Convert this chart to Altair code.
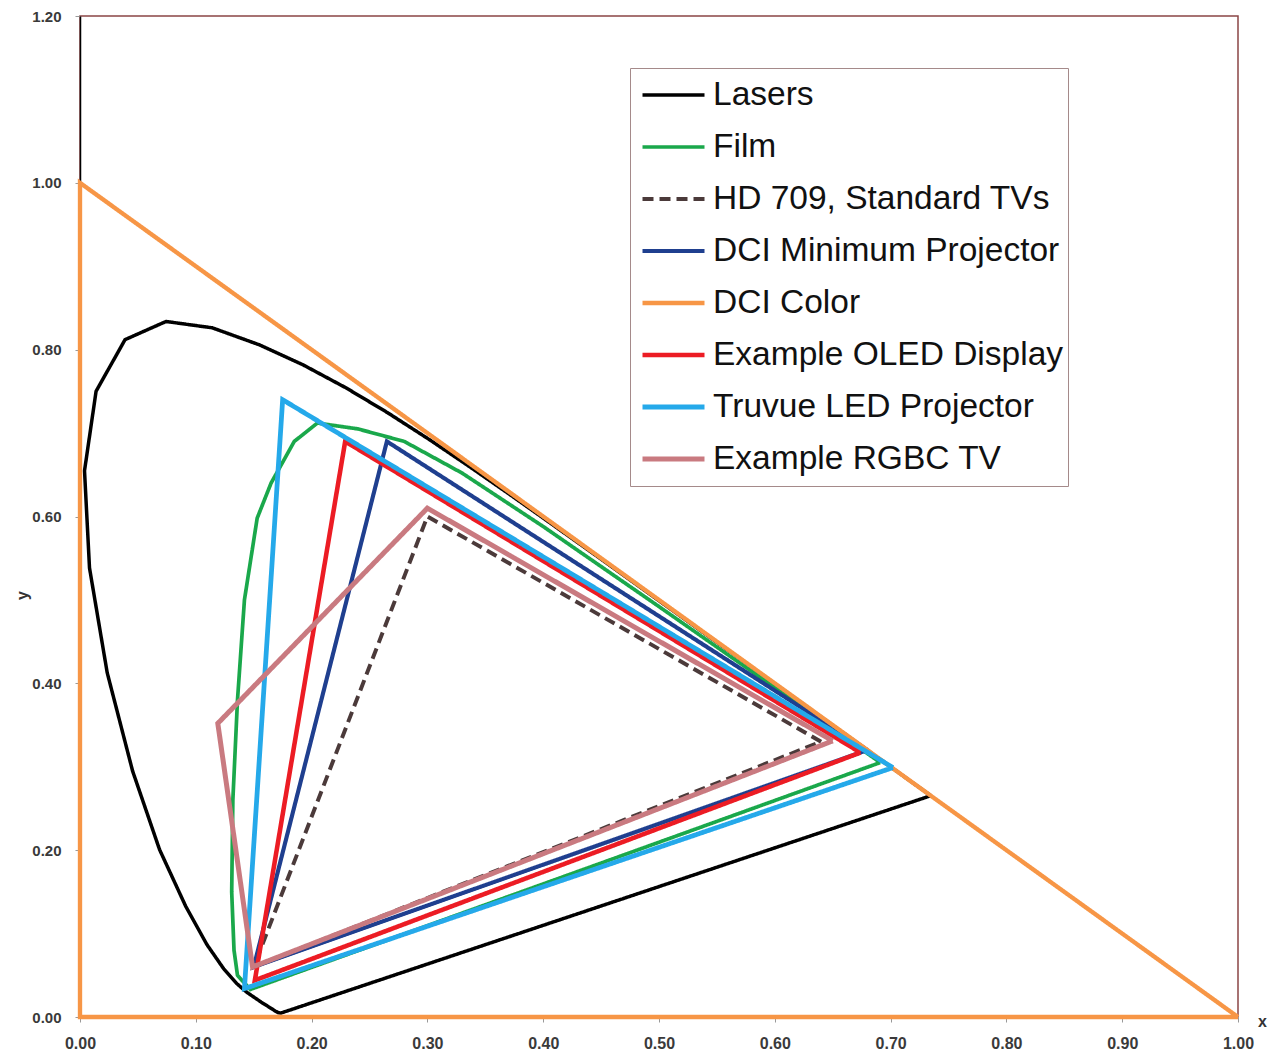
import altair as alt
import pandas as pd

SERIES = ["Lasers", "Film", "HD 709, Standard TVs", "DCI Minimum Projector",
          "DCI Color", "Example OLED Display", "Truvue LED Projector", "Example RGBC TV"]
COLORS = ["#000000", "#1aa84b", "#4b3a3a", "#1f3f8f", "#f79646", "#ec1c24", "#25a9ea", "#c97a80"]
DASHES = [[1, 0], [1, 0], [11, 6], [1, 0], [1, 0], [1, 0], [1, 0], [1, 0]]
WIDTHS = [3.5, 5, 5, 5, 6, 6, 6, 6]

# spectral locus (closed by the line of purples)
LASERS_X = [0.7347, 0.1741, 0.1733, 0.1714, 0.1689, 0.1644, 0.1566, 0.1440, 0.1355, 0.1241,
            0.1096, 0.0913, 0.0687, 0.0454, 0.0235, 0.0082, 0.0039, 0.0139, 0.0389, 0.0743,
            0.1142, 0.1547, 0.1929, 0.2296, 0.2658, 0.3016, 0.3373, 0.3731, 0.4087, 0.4441,
            0.4788, 0.5125, 0.5448, 0.5752, 0.6029, 0.6270, 0.6482, 0.6658, 0.6915, 0.7079,
            0.7190, 0.7260, 0.7300, 0.7334, 0.7347]
LASERS_Y = [0.2653, 0.0050, 0.0048, 0.0051, 0.0069, 0.0109, 0.0177, 0.0297, 0.0399, 0.0578,
            0.0868, 0.1327, 0.2007, 0.2950, 0.4127, 0.5384, 0.6548, 0.7502, 0.8120, 0.8338,
            0.8262, 0.8059, 0.7816, 0.7543, 0.7243, 0.6923, 0.6589, 0.6245, 0.5896, 0.5547,
            0.5202, 0.4866, 0.4544, 0.4242, 0.3965, 0.3725, 0.3514, 0.3340, 0.3083, 0.2920,
            0.2809, 0.2740, 0.2700, 0.2666, 0.2653]

FILM_X = [0.691, 0.60, 0.50, 0.40, 0.33, 0.28, 0.24, 0.205, 0.185, 0.165, 0.153, 0.142,
          0.136, 0.132, 0.131, 0.133, 0.136, 0.147, 0.691]
FILM_Y = [0.305, 0.395, 0.492, 0.588, 0.652, 0.690, 0.705, 0.712, 0.690, 0.640, 0.598, 0.500,
          0.380, 0.260, 0.150, 0.080, 0.050, 0.033, 0.305]

HD709_X = [0.64, 0.30, 0.15, 0.64]
HD709_Y = [0.33, 0.60, 0.06, 0.33]

DCIMIN_X = [0.680, 0.265, 0.150, 0.680]
DCIMIN_Y = [0.320, 0.690, 0.060, 0.320]

DCICOLOR_X = [1.0, 0.0, 0.0, 1.0]
DCICOLOR_Y = [0.0, 1.0, 0.0, 0.0]

OLED_X = [0.674, 0.229, 0.151, 0.674]
OLED_Y = [0.317, 0.690, 0.044, 0.317]

TRUVUE_X = [0.702, 0.175, 0.142, 0.702]
TRUVUE_Y = [0.299, 0.740, 0.034, 0.299]

RGBC_X = [0.650, 0.300, 0.119, 0.149, 0.650]
RGBC_Y = [0.331, 0.610, 0.352, 0.060, 0.331]

SERIES_XY = [(LASERS_X, LASERS_Y), (FILM_X, FILM_Y), (HD709_X, HD709_Y), (DCIMIN_X, DCIMIN_Y),
             (DCICOLOR_X, DCICOLOR_Y), (OLED_X, OLED_Y), (TRUVUE_X, TRUVUE_Y), (RGBC_X, RGBC_Y)]

rows = []
for k, (name, (xs, ys)) in enumerate(zip(SERIES, SERIES_XY)):
    for i, (xv, yv) in enumerate(zip(xs, ys)):
        rows.append({"series": name, "k": k, "i": i, "x": xv, "y": yv})
df = pd.DataFrame(rows)

FONT = "Liberation Sans"

chart = alt.Chart(df).mark_line(strokeJoin="miter", strokeMiterLimit=3, strokeCap="butt").encode(
    x=alt.X("x:Q", scale=alt.Scale(domain=[0, 1], nice=False),
            axis=alt.Axis(values=[i / 10 for i in range(11)], format=".2f", grid=False,
                          labelFlush=False,
                          title="x", titleX=1182, titleY=4, titleAngle=0, titleAlign="center",
                          titleBaseline="middle", titleFont=FONT, titleFontSize=16,
                          titleFontWeight="bold", titleColor="#333",
                          labelFont=FONT, labelFontSize=16, labelFontWeight="bold",
                          labelColor="#3a3a3a", labelPadding=13, tickSize=5, tickColor="#999",
                          domainColor="#999")),
    y=alt.Y("y:Q", scale=alt.Scale(domain=[0, 1.2], nice=False),
            axis=alt.Axis(values=[0, 0.2, 0.4, 0.6, 0.8, 1.0, 1.2], format=".2f", grid=False,
                          labelFlush=False,
                          title="y", titleX=-58, titleY=579, titleAngle=-90,
                          titleAlign="center", titleBaseline="middle", titleFont=FONT,
                          titleFontSize=16, titleFontWeight="bold", titleColor="#333",
                          labelFont=FONT, labelFontSize=15, labelFontWeight="bold",
                          labelColor="#3a3a3a", labelPadding=14, tickSize=5, tickColor="#999",
                          domainColor="#000", domainWidth=1.5)),
    color=alt.Color("series:N", scale=alt.Scale(domain=SERIES, range=COLORS),
                    legend=alt.Legend(title=None, orient="none", legendX=550, legendY=52,
                                      direction="vertical", symbolType="stroke",
                                      symbolSize=3844, symbolStrokeWidth=6, symbolOffset=6,
                                      labelFont=FONT, labelFontSize=33.5, labelColor="#111",
                                      labelOffset=6, labelLimit=800, clipHeight=46,
                                      rowPadding=6, padding=4, strokeColor="#a58a8a",
                                      fillColor="white")),
    strokeDash=alt.StrokeDash("series:N", scale=alt.Scale(domain=SERIES, range=DASHES),
                              legend=alt.Legend(title=None)),
    strokeWidth=alt.StrokeWidth("series:N", scale=alt.Scale(domain=SERIES, range=WIDTHS),
                                legend=None),
    order=alt.Order("i:Q"),
    detail="series:N",
).properties(
    width=1158, height=1001,
    autosize=alt.AutoSizeParams(type="none"),
    padding={"left": 72, "top": 8, "right": 30, "bottom": 36},
).configure(
    background="white"
).configure_view(
    stroke="#8b4545", strokeWidth=1.5
)

chart.save("out.html", embed_options={"renderer": "svg", "actions": False})
